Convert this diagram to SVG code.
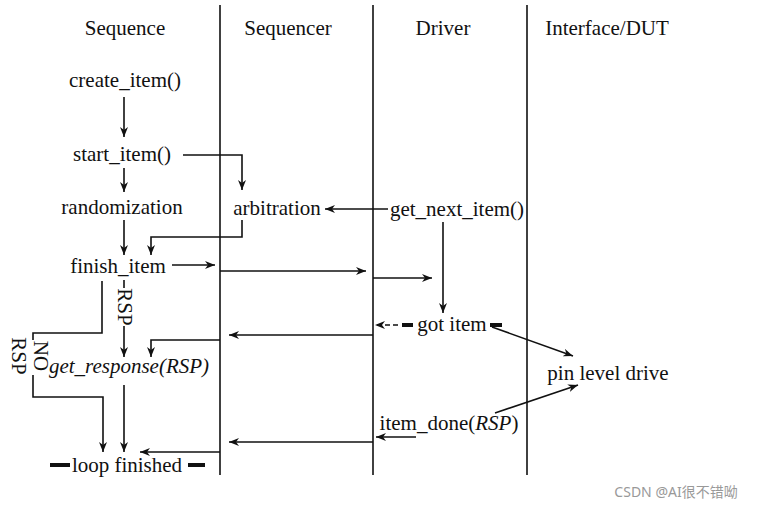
<svg xmlns="http://www.w3.org/2000/svg" width="773" height="509" viewBox="0 0 773 509" font-family="Liberation Serif, DejaVu Serif, serif">
<style>
text{font-family:"Liberation Serif","DejaVu Serif",serif;font-size:21px;fill:#111;text-anchor:middle}
.l{stroke:#111;stroke-width:1.6;fill:none}
.a{stroke:#111;stroke-width:1.6;fill:none;marker-end:url(#ah)}
.t{stroke:#111;stroke-width:4}
</style>
<defs><marker id="ah" viewBox="0 0 10 8" refX="10" refY="4" markerWidth="10" markerHeight="8" markerUnits="userSpaceOnUse" orient="auto"><path d="M0,0L10,4L0,8L3,4z" fill="#111"/></marker></defs>
<rect width="773" height="509" fill="#fff"/>
<g id="lanes">
<line class="l" x1="220" y1="5" x2="220" y2="475"/>
<line class="l" x1="373" y1="5" x2="373" y2="475"/>
<line class="l" x1="527" y1="5" x2="527" y2="475"/>
<text x="125" y="35">Sequence</text><text x="288" y="35">Sequencer</text><text x="443" y="35">Driver</text><text x="607" y="35">Interface/DUT</text>
</g>
<g id="n-create"><text x="125" y="87">create_item()</text></g>
<g id="n-start"><text x="122" y="161">start_item()</text></g>
<g id="n-rand"><text x="122" y="214">randomization</text></g>
<g id="n-arb"><text x="277" y="215">arbitration</text></g>
<g id="n-finish"><text x="118" y="273">finish_item</text></g>
<g id="n-getnext"><text x="457" y="216">get_next_item()</text></g>
<g id="n-got"><text x="452" y="331">got item</text></g>
<g id="n-pin"><text x="608" y="380">pin level drive</text></g>
<g id="n-done"><text x="449" y="430">item_done(<tspan font-style="italic">RSP</tspan>)</text></g>
<g id="n-getresp"><text x="129" y="373" font-style="italic">get_response(RSP)</text></g>
<g id="n-loop"><text x="127" y="472">loop finished</text></g>
<g id="labels">
<text transform="translate(118,307) rotate(90)">RSP</text>
<text transform="translate(34,356) rotate(90)">NO</text>
<text transform="translate(12,356) rotate(90)">RSP</text>
</g>
<g id="connectors">
<line class="a" x1="124" y1="97" x2="124" y2="137"/>
<polyline class="a" points="183,155 242,155 242,190"/>
<line class="a" x1="124" y1="168" x2="124" y2="192"/>
<line class="a" x1="388" y1="209" x2="325" y2="209"/>
<polyline class="a" points="242,220 242,237 151,237 151,255"/>
<line class="a" x1="124" y1="220" x2="124" y2="255"/>
<line class="a" x1="172" y1="265" x2="215" y2="265"/>
<line class="a" x1="220" y1="271" x2="366" y2="271"/>
<line class="a" x1="373" y1="278" x2="432" y2="278"/>
<line class="a" x1="443" y1="222" x2="443" y2="313"/>
<line class="a" x1="398" y1="325" x2="375" y2="325" stroke-dasharray="5,3"/>
<line class="t" x1="402" y1="325" x2="413" y2="325"/>
<line class="t" x1="490" y1="325" x2="502" y2="325"/>
<line class="a" x1="492" y1="327" x2="573" y2="356"/>
<line class="a" x1="495" y1="413" x2="578" y2="385"/>
<line class="a" x1="416" y1="437" x2="376" y2="437"/>
<line class="a" x1="373" y1="335" x2="229" y2="335"/>
<line class="a" x1="373" y1="442" x2="229" y2="442"/>
<polyline class="a" points="220,340 151,340 151,357"/>
<line class="l" x1="124" y1="280" x2="124" y2="288"/>
<line class="a" x1="124" y1="326" x2="124" y2="357"/>
<polyline class="l" points="102,281 102,333 33,333 33,340"/>
<polyline class="a" points="33,375 33,397 103,397 103,452"/>
<line class="a" x1="124" y1="385" x2="124" y2="452"/>
<line class="a" x1="220" y1="452" x2="140" y2="452"/>
<line class="t" x1="50" y1="465" x2="70" y2="465"/>
<line class="t" x1="188" y1="465" x2="205" y2="465"/>
</g>
<text x="676" y="497" style="font-family:'Noto Sans','Noto Sans CJK SC',sans-serif;font-size:14px;fill:#999">CSDN @AI很不错呦</text>
</svg>
